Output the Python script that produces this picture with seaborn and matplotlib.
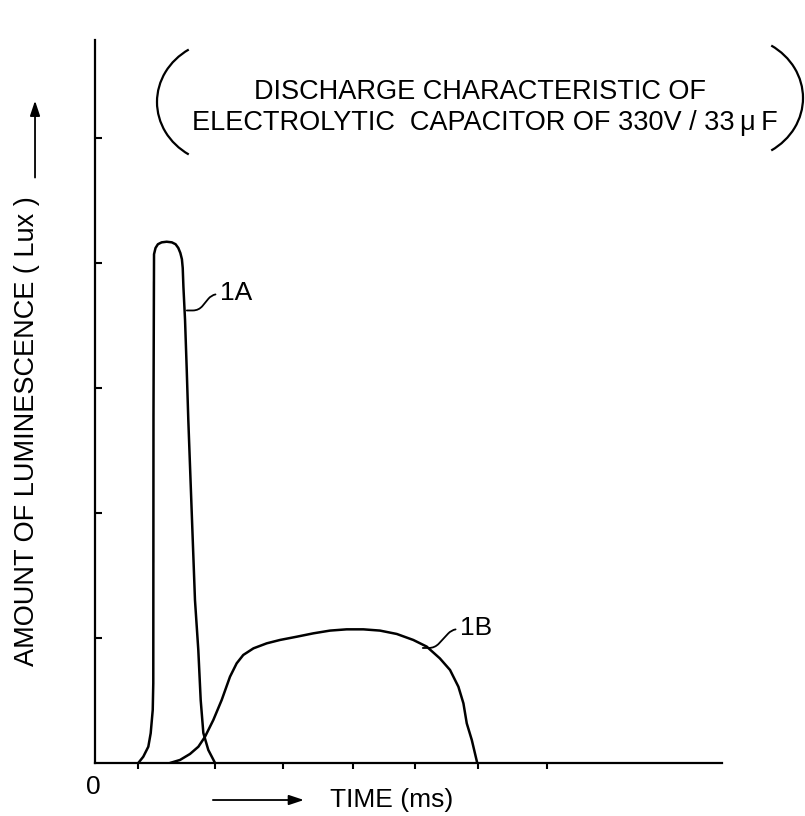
import numpy as np
import pandas as pd
import seaborn as sns
import matplotlib.pyplot as plt
from matplotlib.patches import Arc, FancyArrowPatch

## curve data (time and luminescence in tick units)
a_time = [0.637, 0.71, 0.784, 0.819, 0.849, 0.857, 0.86, 0.86, 0.86, 0.86, 0.868, 0.89,
          0.925, 0.98, 1.054, 1.13, 1.185, 1.225, 1.255, 1.278, 1.29, 1.30, 1.324, 1.349,
          1.372, 1.47, 1.519, 1.554, 1.593, 1.666, 1.765]
a_lux = [0.0, 0.05, 0.13, 0.238, 0.424, 0.638, 0.904, 2.504, 3.704, 4.0, 4.07, 4.12,
         4.15, 4.165, 4.17, 4.165, 4.15, 4.12, 4.08, 4.03, 3.96, 3.81, 3.544, 3.144,
         2.744, 1.304, 0.904, 0.504, 0.24, 0.104, 0.0]

b_time = [1.103, 1.25, 1.397, 1.52, 1.618, 1.74, 1.863, 1.985, 2.083, 2.18, 2.33, 2.525,
          2.72, 2.966, 3.21, 3.456, 3.70, 3.946, 4.19, 4.437, 4.68, 4.877, 5.07, 5.22,
          5.343, 5.417, 5.466, 5.54, 5.62]
b_lux = [0.0, 0.024, 0.072, 0.13, 0.21, 0.344, 0.504, 0.69, 0.797, 0.864, 0.917, 0.957,
         0.984, 1.01, 1.037, 1.059, 1.069, 1.069, 1.059, 1.032, 0.984, 0.931, 0.837, 0.744,
         0.61, 0.477, 0.317, 0.184, 0.0]

x_ticks = [0.63, 1.76, 2.76, 3.79, 4.70, 5.63, 6.65]
y_ticks = [1, 2, 3, 4, 5]

curve_a = pd.DataFrame({"time": a_time, "lux": a_lux})
curve_b = pd.DataFrame({"time": b_time, "lux": b_lux})

sns.set_theme(style="white")
plt.rcParams['font.family'] = ['Liberation Sans', 'DejaVu Sans']
plt.rcParams['text.color'] = 'black'

fig = plt.figure(figsize=(8.05, 8.16), dpi=100)
ax = fig.add_axes([0.118, 0.065, 0.779, 0.886])

sns.lineplot(data=curve_a, x="time", y="lux", sort=False, color="black", lw=1.8, ax=ax)
sns.lineplot(data=curve_b, x="time", y="lux", sort=False, color="black", lw=1.8, ax=ax)

ax.set_xlim(0, 9.22)
ax.set_ylim(0, 5.784)
ax.set_xlabel("")
ax.set_ylabel("")
sns.despine(ax=ax)
for s in ["left", "bottom"]:
    ax.spines[s].set_color("black")
    ax.spines[s].set_linewidth(1.6)

ax.set_xticks(x_ticks)
ax.set_yticks(y_ticks)
ax.set_xticklabels([])
ax.set_yticklabels([])
ax.tick_params(axis="x", direction="out", length=4, width=1.5, color="black", bottom=True)
ax.tick_params(axis="y", direction="in", length=5, width=1.5, color="black", left=True)

## curve labels with S shaped leaders
leader = dict(arrowstyle="-", color="black", lw=1.3, relpos=(0, 0.45),
              connectionstyle="arc,angleA=180,angleB=0,armA=8,armB=12,rad=6",
              shrinkA=1, shrinkB=0)
ax.annotate("1A", xy=(1.35, 3.62), xytext=(1.84, 3.76), fontsize=19, va="center",
            ha="left", arrowprops=leader)
ax.annotate("1B", xy=(4.82, 0.92), xytext=(5.37, 1.08), fontsize=19, va="center",
            ha="left", arrowprops=leader)

## axis texts
fig.text(0.1155, 0.0355, "0", fontsize=19, ha="center", va="center")
fig.text(0.41, 0.0196, "TIME (ms)", fontsize=19, ha="left", va="center")
fig.patches.append(FancyArrowPatch(
    (0.261, 0.0196), (0.381, 0.0196), transform=fig.transFigure,
    arrowstyle="-|>,head_length=9,head_width=3", color="black", lw=1.3))

fig.text(0.0335, 0.472, "AMOUNT OF LUMINESCENCE ( Lux )", fontsize=19.5, rotation=90,
         ha="center", va="center")
fig.patches.append(FancyArrowPatch(
    (0.0435, 0.779), (0.0435, 0.880), transform=fig.transFigure,
    arrowstyle="-|>,head_length=9,head_width=3", color="black", lw=1.3))

## title in brackets
fig.text(0.596, 0.887, "DISCHARGE CHARACTERISTIC OF", fontsize=19.5, ha="center", va="center")
fig.text(0.602, 0.849, "ELECTROLYTIC  CAPACITOR OF 330V / 33\u2009\u03bc\u2009F", fontsize=19.5,
         ha="center", va="center")
fig.patches.append(Arc((225 / 805, 1 - 102 / 816), 136 / 805, 124 / 816, theta1=125,
                       theta2=235, transform=fig.transFigure, color="black", lw=1.6))
fig.patches.append(Arc((735 / 805, 1 - 98 / 816), 136 / 805, 124 / 816, theta1=-55,
                       theta2=55, transform=fig.transFigure, color="black", lw=1.6))

fig.savefig("out.png", dpi=100)
